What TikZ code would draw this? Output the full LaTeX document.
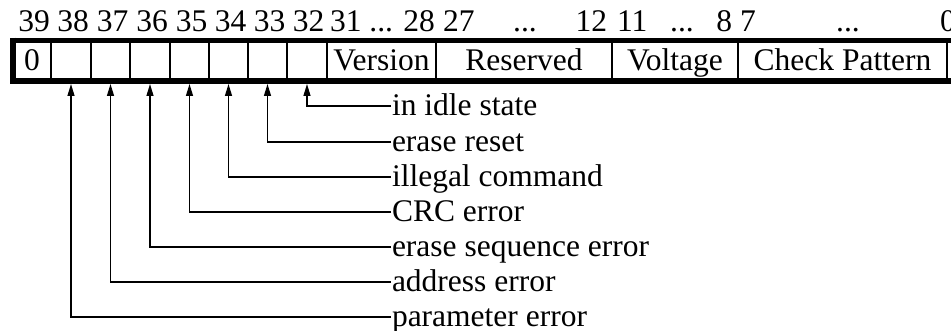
\documentclass[tikz,border=0pt]{standalone}
\usepackage{fontspec}
\setmainfont{Liberation Serif}
\usetikzlibrary{arrows.meta}
\begin{document}
\begin{tikzpicture}[x=1pt,y=-1pt,
  every node/.style={font=\fontsize{31.5}{36}\selectfont, inner sep=0pt, outer sep=0pt},
  cell/.style={draw, line width=1.6pt, minimum height=40.2pt, text height=20.8pt, text depth=0pt},
  hdr/.style={anchor=base},
  lbl/.style={anchor=base west},
  arr/.style={line width=1.3pt, -{Triangle[length=12pt,width=7pt]}},
  thickb/.style={line width=5.6pt}
]
\useasboundingbox (0,0) rectangle (951,331);
% cells
\node[cell, minimum width=38pt] (b39) at (32,60.6) {0};
\node[cell, minimum width=40pt] (b38) at (71,60.6) {};
\node[cell, minimum width=39pt] (b37) at (110.5,60.6) {};
\node[cell, minimum width=40pt] (b36) at (150,60.6) {};
\node[cell, minimum width=39pt] (b35) at (189.5,60.6) {};
\node[cell, minimum width=39pt] (b34) at (228.5,60.6) {};
\node[cell, minimum width=39pt] (b33) at (267.5,60.6) {};
\node[cell, minimum width=40pt] (b32) at (307,60.6) {};
\node[cell, minimum width=109pt] (ver) at (381.5,60.6) {Version};
\node[cell, minimum width=176pt] (res) at (524,60.6) {Reserved};
\node[cell, minimum width=126pt] (vol) at (675,60.6) {Voltage};
\node[cell, minimum width=209pt] (chk) at (842.5,60.6) {Check Pattern};
% thick outer border
\draw[thickb] (10,40.5) -- (951,40.5);
\draw[thickb] (10,80.9) -- (951,80.9);
\draw[thickb] (13,37.7) -- (13,83.7);
% header numbers
\node[hdr] (h39) at (34,31.5) {39};
\node[hdr] (h38) at (73,31.5) {38};
\node[hdr] (h37) at (112.5,31.5) {37};
\node[hdr] (h36) at (152,31.5) {36};
\node[hdr] (h35) at (191.5,31.5) {35};
\node[hdr] (h34) at (230.5,31.5) {34};
\node[hdr] (h33) at (269.5,31.5) {33};
\node[hdr] (h32) at (308.5,31.5) {32};
\node[anchor=base west] (h31) at (330,31.5) {31 ... 28};
\node[anchor=base west] (h27) at (443,31.5) {27};
\node[hdr] (hd1) at (525,31.5) {...};
\node[anchor=base east] (h12) at (607,31.5) {12};
\node[anchor=base west] (h11) at (617,31.5) {11};
\node[hdr] (hd2) at (682,31.5) {...};
\node[anchor=base east] (h8) at (732,31.5) {8};
\node[anchor=base west] (h7) at (740,31.5) {7};
\node[hdr] (hd3) at (848,31.5) {...};
\node[anchor=base west] (h0) at (940,31.5) {0};
% labels
\node[lbl] (l1) at (392,115.5) {in idle state};
\node[lbl] (l2) at (392,151.5) {erase reset};
\node[lbl] (l3) at (392,186.5) {illegal command};
\node[lbl] (l4) at (392,221.5) {CRC error};
\node[lbl] (l5) at (392,256.5) {erase sequence error};
\node[lbl] (l6) at (392,291.5) {address error};
\node[lbl] (l7) at (392,326.5) {parameter error};
\coordinate (e1) at (391,106);
\coordinate (e2) at (391,142);
\coordinate (e3) at (391,177);
\coordinate (e4) at (391,212);
\coordinate (e5) at (391,247);
\coordinate (e6) at (391,282);
\coordinate (e7) at (391,317);
\coordinate (t32) at (307,84);
\coordinate (t33) at (267.5,84);
\coordinate (t34) at (228.5,84);
\coordinate (t35) at (189.5,84);
\coordinate (t36) at (150,84);
\coordinate (t37) at (110.5,84);
\coordinate (t38) at (71,84);
\draw[arr] (e1) -| (t32);
\draw[arr] (e2) -| (t33);
\draw[arr] (e3) -| (t34);
\draw[arr] (e4) -| (t35);
\draw[arr] (e5) -| (t36);
\draw[arr] (e6) -| (t37);
\draw[arr] (e7) -| (t38);
\end{tikzpicture}
\end{document}
